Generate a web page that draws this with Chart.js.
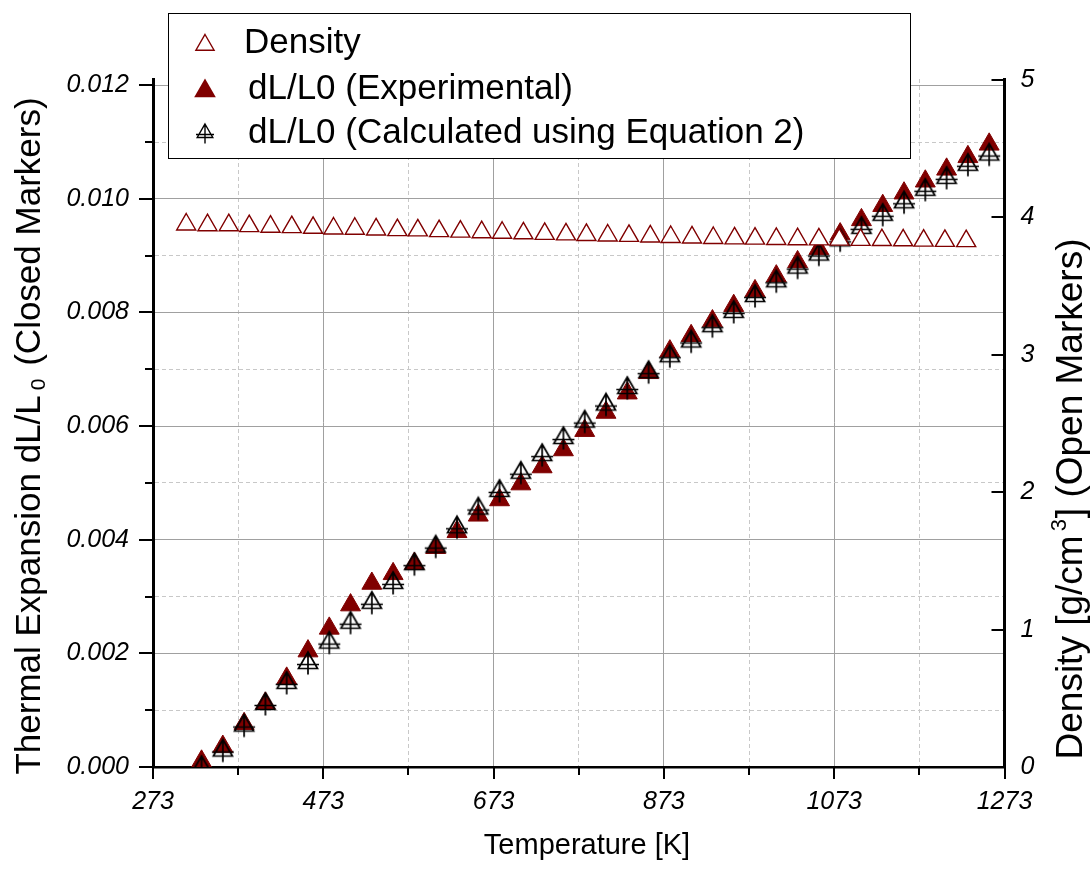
<!DOCTYPE html>
<html>
<head>
<meta charset="utf-8">
<title>Thermal expansion and density</title>
<script src="https://cdn.jsdelivr.net/npm/chart.js@4.4.0/dist/chart.umd.min.js"></script>
<style>
  html, body { margin: 0; padding: 0; background: #fff; }
  #wrap { width: 1092px; height: 871px; position: relative; }
</style>
</head>
<body>
<div id="wrap"><canvas id="expChart"></canvas></div>
<script>
// Temperatures [K] of the two dL/L0 series
const tempExpansion = [330, 355, 380, 405, 430, 455, 480, 505, 530, 555, 580, 605, 630, 655, 680, 705, 730, 755, 780,
  805, 830, 855, 880, 905, 930, 955, 980, 1005, 1030, 1055, 1080, 1105, 1130, 1155, 1180, 1205, 1230, 1255];

// dL/L0 measured (closed markers)
const dlExperimental = [0.00010, 0.00036, 0.00076, 0.00112, 0.00156, 0.00204, 0.00244, 0.00285, 0.00323, 0.00340,
  0.00358, 0.00386, 0.00414, 0.00443, 0.00470, 0.00498, 0.00528, 0.00558, 0.00592, 0.00624, 0.00658, 0.00694,
  0.00732, 0.00759, 0.00785, 0.00812, 0.00838, 0.00864, 0.00889, 0.00912, 0.00938, 0.00963, 0.00988, 0.01010,
  0.01031, 0.01052, 0.01074, 0.01096];

// dL/L0 calculated using Equation 2
const dlCalculated = [0.00000, 0.00029, 0.00073, 0.00111, 0.00148, 0.00183, 0.00219, 0.00254, 0.00289, 0.00324,
  0.00357, 0.00388, 0.00422, 0.00455, 0.00486, 0.00518, 0.00549, 0.00579, 0.00608, 0.00638, 0.00667, 0.00695,
  0.00723, 0.00749, 0.00776, 0.00801, 0.00829, 0.00855, 0.00879, 0.00902, 0.00927, 0.00949, 0.00972, 0.00994,
  0.01016, 0.01037, 0.01060, 0.01078];

// Density (open markers, right axis)
const tempDensity = [312, 337, 362, 386, 411, 436, 461, 485, 510, 535, 560, 584, 609, 634, 659, 683, 708, 733, 758,
  782, 807, 832, 857, 881, 906, 931, 956, 980, 1005, 1030, 1055, 1079, 1104, 1129, 1154, 1178, 1203, 1228];
const density = [3.948, 3.943, 3.943, 3.936, 3.932, 3.929, 3.924, 3.919, 3.917, 3.912, 3.907, 3.905, 3.900, 3.896,
  3.892, 3.888, 3.884, 3.880, 3.876, 3.872, 3.868, 3.865, 3.861, 3.857, 3.854, 3.850, 3.847, 3.845, 3.843, 3.841,
  3.840, 3.838, 3.836, 3.835, 3.833, 3.831, 3.829, 3.827];

// Axis ticks (empty label = minor tick)
const xTicks = [273, 373, 473, 573, 673, 773, 873, 973, 1073, 1173, 1273];
const xTickLabels = ['273', '', '473', '', '673', '', '873', '', '1073', '', '1273'];
const leftTicks = [0, 0.001, 0.002, 0.003, 0.004, 0.005, 0.006, 0.007, 0.008, 0.009, 0.010, 0.011, 0.012];
const leftTickLabels = ['0.000', '', '0.002', '', '0.004', '', '0.006', '', '0.008', '', '0.010', '', '0.012'];
const rightTicks = [0, 1, 2, 3, 4, 5];
const rightTickLabels = ['0', '1', '2', '3', '4', '5'];

const FONT = "'Liberation Sans', Arial, Helvetica, sans-serif";
const DARK_RED = '#800000';

// open black triangle with a cross, like the calculated markers
function crossTriangle(r, lw) {
  const s = 2 * Math.ceil(r + 7);
  const c = document.createElement('canvas');
  c.width = s; c.height = s;
  const g = c.getContext('2d');
  const cx = s / 2, cy = s / 2;
  const h = Math.sin(Math.PI / 3) * r;
  g.strokeStyle = '#000';
  g.lineWidth = lw;
  g.beginPath();
  g.moveTo(cx, cy - r);
  g.lineTo(cx + h, cy + r / 2);
  g.lineTo(cx - h, cy + r / 2);
  g.closePath();
  g.moveTo(cx, cy - r);
  g.lineTo(cx, cy + r / 2 + 6);
  g.moveTo(cx - r, cy + 1.5);
  g.lineTo(cx + r, cy + 1.5);
  g.stroke();
  return c;
}
const calcMarker = crossTriangle(11, 1.7);
const calcLegendMarker = crossTriangle(9, 1.4);

function triPath(g, x, y, r) {
  const h = Math.sin(Math.PI / 3) * r;
  g.beginPath();
  g.moveTo(x, y - r);
  g.lineTo(x + h, y + r / 2);
  g.lineTo(x - h, y + r / 2);
  g.closePath();
}

// ticks, axis titles and the boxed legend
const decorations = {
  id: 'decorations',
  afterDraw(chart) {
    const g = chart.ctx;
    const { left, right, bottom } = chart.chartArea;
    const sx = chart.scales.x, sy = chart.scales.y, sy2 = chart.scales.y2;

    g.save();
    g.strokeStyle = '#000';
    g.lineWidth = 2;
    g.beginPath();
    xTicks.forEach((v, i) => {
      const px = Math.round(sx.getPixelForValue(v));
      const len = xTickLabels[i] ? 12 : 8;
      g.moveTo(px, bottom);
      g.lineTo(px, bottom + len);
    });
    leftTicks.forEach((v, i) => {
      const py = Math.round(sy.getPixelForValue(v));
      const len = leftTickLabels[i] ? 14 : 8;
      g.moveTo(left - len, py);
      g.lineTo(left, py);
    });
    rightTicks.forEach(v => {
      const py = Math.round(sy2.getPixelForValue(v));
      g.moveTo(right - 13, py);
      g.lineTo(right, py);
    });
    g.stroke();

    // axis titles
    g.fillStyle = '#000';
    g.textBaseline = 'middle';
    g.textAlign = 'center';
    g.font = '29px ' + FONT;
    g.fillText('Temperature [K]', 587, 846);

    drawRotated(g, 30, 436, [
      { t: 'Thermal Expansion dL/L', size: 35, dy: 0 },
      { t: '0', size: 21, dy: 9, gap: 5 },
      { t: ' (Closed Markers)', size: 35, dy: 0, gap: 3 }
    ]);
    drawRotated(g, 1072, 499, [
      { t: 'Density [g/cm', size: 37, dy: 0 },
      { t: '3', size: 22, dy: -12, gap: 4 },
      { t: '] (Open Markers)', size: 37, dy: 0, gap: 1 }
    ]);

    // legend
    g.fillStyle = '#fff';
    g.fillRect(168, 13, 742, 145);
    g.strokeStyle = '#000';
    g.lineWidth = 1;
    g.strokeRect(168.5, 13.5, 742, 145);

    triPath(g, 205, 45, 10.5);
    g.fillStyle = '#fff';
    g.fill();
    g.strokeStyle = DARK_RED;
    g.lineWidth = 1.4;
    g.stroke();

    triPath(g, 205, 91, 12.5);
    g.fillStyle = DARK_RED;
    g.fill();

    g.drawImage(calcLegendMarker, 205 - calcLegendMarker.width / 2, 133 - calcLegendMarker.height / 2);

    g.fillStyle = '#000';
    g.textAlign = 'left';
    g.font = '35px ' + FONT;
    g.fillText('Density', 244, 43);
    g.fillText('dL/L0 (Experimental)', 248, 89);
    g.fillText('dL/L0 (Calculated using Equation 2)', 248, 133);
    g.restore();
  }
};

// text rotated to read bottom-to-top, with sub/superscript pieces
function drawRotated(g, cx, cy, parts) {
  g.save();
  g.translate(cx, cy);
  g.rotate(-Math.PI / 2);
  g.textAlign = 'left';
  g.textBaseline = 'middle';
  let total = 0;
  parts.forEach(p => {
    g.font = p.size + 'px ' + FONT;
    p.w = g.measureText(p.t).width;
    total += p.w + (p.gap || 0);
  });
  let x = -total / 2;
  parts.forEach(p => {
    x += p.gap || 0;
    g.font = p.size + 'px ' + FONT;
    g.fillText(p.t, x, p.dy);
    x += p.w;
  });
  g.restore();
}

const tickFont = { family: FONT, size: 25, style: 'italic' };

new Chart(document.getElementById('expChart'), {
  type: 'scatter',
  data: {
    datasets: [
      {
        label: 'Density',
        data: tempDensity.map((t, i) => ({ x: t, y: density[i] })),
        yAxisID: 'y2',
        pointStyle: 'triangle',
        pointRadius: 11,
        backgroundColor: '#ffffff',
        borderColor: DARK_RED,
        borderWidth: 1.4,
        order: 0
      },
      {
        label: 'dL/L0 (Experimental)',
        data: tempExpansion.map((t, i) => ({ x: t, y: dlExperimental[i] })),
        yAxisID: 'y',
        pointStyle: 'triangle',
        pointRadius: 11.5,
        backgroundColor: DARK_RED,
        borderColor: DARK_RED,
        borderWidth: 1,
        order: 2
      },
      {
        label: 'dL/L0 (Calculated using Equation 2)',
        data: tempExpansion.map((t, i) => ({ x: t, y: dlCalculated[i] })),
        yAxisID: 'y',
        pointStyle: calcMarker,
        pointRadius: 10,
        order: 1
      }
    ]
  },
  options: {
    responsive: true,
    maintainAspectRatio: false,
    animation: false,
    layout: { padding: { top: 79, left: 0, right: 0, bottom: 0 } },
    plugins: {
      legend: { display: false },
      tooltip: { enabled: false }
    },
    scales: {
      x: {
        type: 'linear',
        min: 273,
        max: 1273,
        afterBuildTicks: s => { s.ticks = xTicks.map(v => ({ value: v })); },
        afterFit: s => { s.height = 104; },
        ticks: {
          autoSkip: false,
          maxRotation: 0,
          padding: 20,
          color: '#000',
          font: tickFont,
          callback: (v, i) => xTickLabels[i]
        },
        grid: {
          drawTicks: false,
          lineWidth: 1,
          color: c => (c.tick && !xTickLabels[c.index]) ? '#c8c8c8' : '#a0a0a0'
        },
        border: {
          color: '#000',
          width: 2.5,
          dash: c => (c.tick && !xTickLabels[c.index]) ? [4, 3] : []
        }
      },
      y: {
        type: 'linear',
        position: 'left',
        min: 0,
        max: 0.01211,
        afterBuildTicks: s => { s.ticks = leftTicks.map(v => ({ value: v })); },
        afterFit: s => { s.width = 153; },
        ticks: {
          autoSkip: false,
          padding: 24,
          color: '#000',
          font: tickFont,
          callback: (v, i) => leftTickLabels[i]
        },
        grid: {
          drawTicks: false,
          lineWidth: 1,
          color: c => (c.tick && !leftTickLabels[c.index]) ? '#c8c8c8' : '#a0a0a0'
        },
        border: {
          color: '#000',
          width: 3,
          dash: c => (c.tick && !leftTickLabels[c.index]) ? [4, 3] : []
        }
      },
      y2: {
        type: 'linear',
        position: 'right',
        min: 0,
        max: 5.007,
        afterBuildTicks: s => { s.ticks = rightTicks.map(v => ({ value: v })); },
        afterFit: s => { s.width = 87.5; },
        ticks: {
          autoSkip: false,
          padding: 16,
          color: '#000',
          font: tickFont,
          callback: (v, i) => rightTickLabels[i]
        },
        grid: { drawOnChartArea: false, drawTicks: false },
        border: { color: '#000', width: 3 }
      }
    }
  },
  plugins: [decorations]
});
</script>
</body>
</html>
